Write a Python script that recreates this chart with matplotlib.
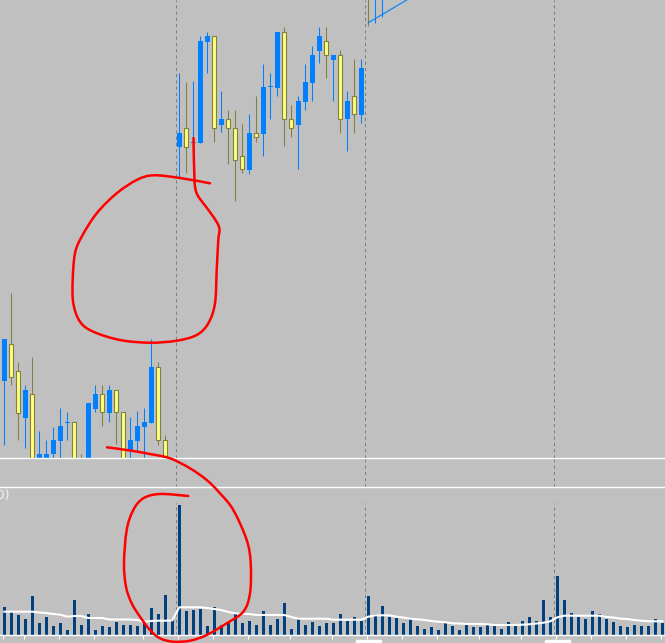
import numpy as np
import matplotlib.pyplot as plt
from matplotlib.path import Path
from matplotlib.patches import PathPatch, Rectangle
from matplotlib.transforms import Affine2D

# candles, price axis in screen units (0 = bottom of price pane)
opens = [79.3, 115.7, 89, 42.3, 66, -15, -10, 5.7, 19.3, 37.3, 37.7, -2, -15, 51.3, 66, 47.3, 69.7, 47.7,
         9.3, 19.3, 33.3, 37.3, 93, 19.7, -40,
         313.3, 332, 317.3, 317.3, 418.3, 424, 335.3, 341, 331.7, 304, 290.3, 326.7, 326.3, 372.8, 372.3,
         428, 341, 335.3, 358.3, 377.3, 409.3, 418.7, 400.3, 405, 340.7, 363.7, 345.3, 490, 470, 500]
highs = [121, 167.3, 98.3, 75, 103.3, 29, 20, 33.3, 51.7, 48.3, 37.7, 6, 57, 75, 75, 75, 69.7, 47.7,
         42.7, 49, 51.7, 120.7, 97.7, 25, -10,
         387.3, 378, 378.7, 424, 428, 424, 369.3, 350, 350, 336, 346, 364, 396, 387, 428,
         433, 355, 364, 396, 414.3, 433, 433, 405, 410, 369, 400.7, 400.7, 500, 520, 530]
lows = [15, 75, 20, 11.7, -30, -25, -20, -5, 2.3, 20, -30, -30, -25, 48.3, 34.3, 38.3, 15.7, -30,
        0, 9.3, 0, 37.3, 15, -30, -45,
        283.3, 286.7, 317.3, 317.3, 387.3, 318.3, 327.7, 295.7, 259.3, 286.7, 286.3, 318.3, 304.3, 341, 364,
        314.3, 323.3, 291.3, 350, 359.3, 396.7, 382.3, 359.3, 327.3, 309.3, 327.3, 336.7, 434, 436.7, 442.7]
closes = [121, 83.3, 47.3, 70, -20, 6.3, 6.3, 20, 34, 38.3, -20, -20, 57, 66, 48, 69.7, 47.7, -10,
          20, 34, 38, 93, 19.7, -15, -20,
          327, 313.3, 317.7, 419.3, 424.3, 331.7, 341, 331.7, 299.7, 290.7, 327, 322.7, 373, 373.2, 428,
          341, 332, 359, 378, 405, 424, 404.7, 405, 341, 359, 345.7, 392, 470, 500, 520]

volume = [286, 233, 206, 166, 393, 126, 186, 96, 126, 56, 353, 106, 213, 56, 96, 86, 136, 106, 106, 96,
          136, 276, 216, 406, 166, 1306, 246, 256, 266, 96, 286, 100, 136, 226, 126, 146, 106, 243, 106, 166,
          323, 66, 176, 106, 136, 96, 126, 126, 213, 146, 186, 146, 396, 213, 296, 186, 176, 126, 166, 96,
          66, 86, 56, 126, 96, 56, 106, 86, 86, 100, 96, 66, 136, 96, 146, 186, 146, 356, 186, 596,
          356, 226, 186, 166, 246, 216, 166, 136, 96, 86, 106, 96, 96, 166, 126]
volume_ma = [236, 236, 236, 236, 236, 228, 223, 213, 206, 186, 193, 193, 173, 173, 173, 158, 158, 158, 158, 153,
             136, 143, 146, 146, 150, 280, 280, 280, 280, 273, 263, 253, 233, 220, 213, 213, 203, 203, 203, 203,
             203, 183, 166, 166, 166, 166, 166, 156, 156, 156, 156, 156, 186, 200, 200, 200, 186, 178, 166, 160,
             153, 143, 136, 130, 120, 118, 113, 113, 113, 110, 103, 103, 103, 103, 106, 110, 118, 126, 140, 180,
             196, 196, 196, 196, 196, 196, 183, 178, 166, 163, 153, 146, 140, 140, 140]

separators = [24.55, 51.55, 78.55]
time_ticks = [0, 3, 8, 13, 20, 25, 30, 35, 41, 47, 52, 57, 62, 68, 74, 79, 84, 89, 94]
trend_x = [52, 60]
trend_y = [437.3, 470.4]

BG = "#c0c0c0"
BLUE = "#0080ff"
YELLOW = "#ffff80"
OLIVE = "#808040"
VOLCOL = "#00407f"
W, H = 665, 643

fig = plt.figure(figsize=(W / 100, H / 100), dpi=100, facecolor=BG)

def pane(top_px, bottom_px, face=BG):
    ax = fig.add_axes([0, (H - bottom_px) / H, 1, (bottom_px - top_px) / H], facecolor=face)
    ax.set_xlim(-0.614, 94.386)
    ax.set_xticks([])
    ax.set_yticks([])
    for s in ax.spines.values():
        s.set_visible(False)
    return ax

gap = pane(458, 487, face="none")
ax = pane(0, 458)
axv = pane(487, 635.3)

# price pane
ax.set_ylim(2, 460)
x = np.arange(len(opens))
o, h, l, c = map(np.array, (opens, highs, lows, closes))
up = c >= o
wick_col = np.where(up, BLUE, OLIVE)
ax.vlines(x, l, h, colors=wick_col, lw=0.75, zorder=2)
body_bot = np.minimum(o, c)
body_h = np.maximum(np.abs(c - o), 1.0)
ax.bar(x[up], body_h[up], width=0.7, bottom=body_bot[up], color=BLUE, lw=0, zorder=3)
ax.bar(x[~up], body_h[~up], width=0.6, bottom=body_bot[~up], color=YELLOW,
       edgecolor=OLIVE, lw=0.8, zorder=3)
ax.plot(trend_x, trend_y, color=BLUE, lw=0.8, zorder=4)
ax.spines["bottom"].set_visible(True)
ax.spines["bottom"].set_color("white")
ax.spines["bottom"].set_linewidth(1.0)
ax.spines["bottom"].set_zorder(6)

for a in (ax, gap):
    for s in separators:
        a.axvline(s, color="#808080", lw=0.75, ls=(0, (3, 3)), zorder=1)

# volume pane
axv.set_ylim(0, 1483)
axv.bar(np.arange(len(volume)), volume, width=0.43, color=VOLCOL, zorder=2)
axv.plot(np.arange(len(volume_ma)), volume_ma, color="white", lw=1.5, zorder=3)
axv.vlines(separators, 0, 1323, colors="#808080", lw=0.75, linestyles=[(0, (3, 3))], zorder=1)
for side in ("top", "bottom"):
    axv.spines[side].set_visible(True)
    axv.spines[side].set_color("white")
    axv.spines[side].set_linewidth(1.0)
axv.set_xticks(np.array(time_ticks) - 0.14)
axv.tick_params(axis="x", direction="out", length=2.9, width=0.75, color="white", labelbottom=False)
for xb in (50.24, 77.24):
    axv.add_patch(Rectangle((xb, -100), 3.57, 53, color="white", clip_on=False, zorder=5))

# indicator caption, cut by the left window edge as on the screen
fig.text(10.5 / W, 1 - 495 / H, "Volumes(20)", ha="right", va="center", fontsize=9, color="#f4f4f4")

# hand-drawn red marks, in screen pixels
circle_top = [(193.5, 138), (194.5, 180), (196.7, 193.3), (203.3, 203.3), (213.3, 216.7), (219.3, 228),
              (218.3, 240), (216.7, 270), (215, 303.3), (208.3, 323.3), (196.7, 335), (176.7, 340.7),
              (150, 342.7), (120, 340), (93.3, 331.7), (80, 321.7), (73.3, 303.3), (72.7, 280), (75, 253.3),
              (81.7, 236.7), (96.7, 213.3), (116.7, 193.3), (136.7, 180), (153.3, 175.3), (180, 178),
              (210, 183.3)]
circle_vol = [(107, 447.3), (130, 450.5), (150, 454), (170, 458.3), (190, 468.3), (206.7, 480), (220, 493.3),
              (233.3, 510), (246.7, 540), (250.7, 563.3), (250, 593.3), (243.3, 611.7), (226.7, 623.3),
              (206.7, 635), (190, 640.7), (173.3, 641.7), (160, 638.3), (150, 630), (140, 616.7),
              (131.7, 603.3), (126, 586.7), (124, 563.3), (126.7, 530), (133.3, 510), (143.3, 498.3),
              (160, 494), (188.3, 496)]

def stroke(pts):
    p = np.asarray(pts, float)
    verts, codes = [p[0]], [Path.MOVETO]
    for k in range(len(p) - 1):
        p0 = p[k - 1] if k > 0 else p[k]
        p3 = p[k + 2] if k + 2 < len(p) else p[k + 1]
        verts += [p[k] + (p[k + 1] - p0) / 6, p[k + 1] - (p3 - p[k]) / 6, p[k + 1]]
        codes += [Path.CURVE4] * 3
    return Path(verts, codes)

px = Affine2D().scale(1 / W, -1 / H).translate(0, 1) + fig.transFigure
for pts in (circle_top, circle_vol):
    fig.add_artist(PathPatch(stroke(pts), fill=False, edgecolor="#ff0000", lw=1.8,
                             capstyle="round", joinstyle="round", transform=px, zorder=10))

fig.savefig("out.png", dpi=100, facecolor=BG)
